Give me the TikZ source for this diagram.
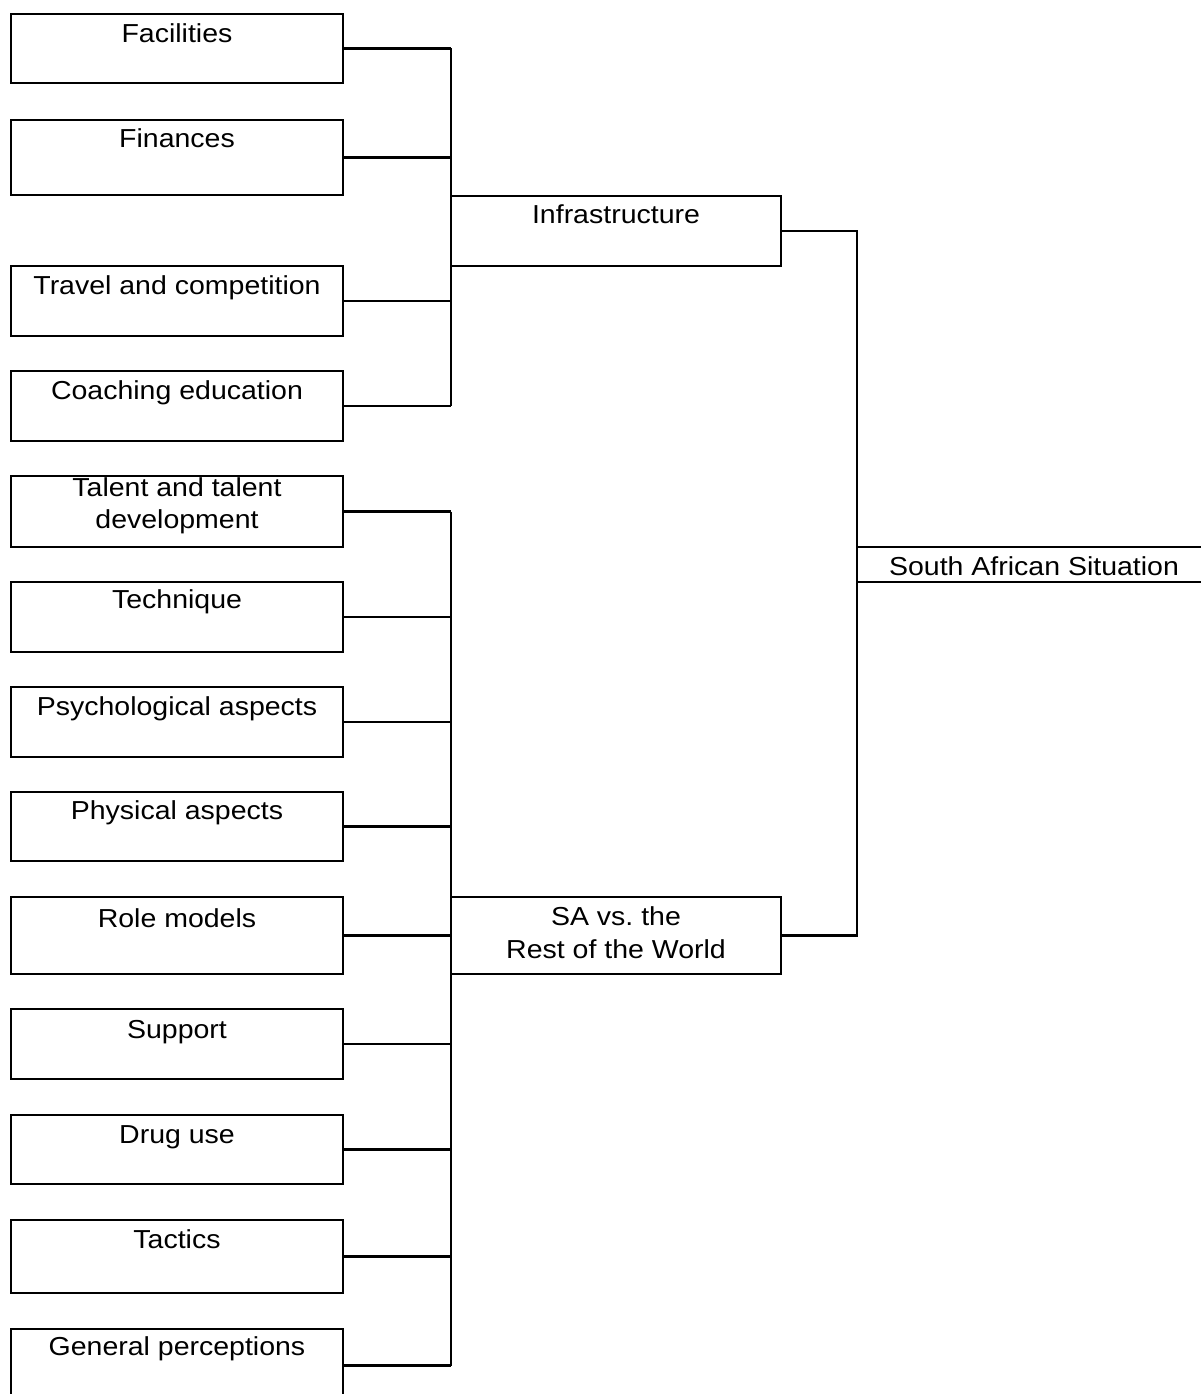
\documentclass[tikz,border=0pt]{standalone}
\usepackage{fontspec}
\usepackage{graphicx}
\setmainfont{Liberation Sans}
\usetikzlibrary{fit}
% labels are set slightly wide
\newcommand\widetext[1]{\scalebox{1.096}[1]{#1}}
\begin{document}
\begin{tikzpicture}[x=1pt,y=-1pt,line width=2.3pt,
  box/.style={draw,line width=2.3pt,inner sep=0pt,outer sep=0pt},
  txt/.style={anchor=base,inner sep=0pt,font=\fontsize{26}{30}\selectfont},
  link/.style={draw,line width=2.3pt}]
\useasboundingbox (0,0) rectangle (1201,1394);

% factor boxes, first group
\node[box,fit={(11,14) (343,83)}]    (fac)   {};
\node[box,fit={(11,120) (343,195)}]  (fin)   {};
\node[box,fit={(11,266) (343,336)}]  (trav)  {};
\node[box,fit={(11,371) (343,441)}]  (coach) {};
% factor boxes, second group
\node[box,fit={(11,476) (343,547)}]   (tal)   {};
\node[box,fit={(11,582) (343,652)}]   (tech)  {};
\node[box,fit={(11,687) (343,757)}]   (psy)   {};
\node[box,fit={(11,792) (343,861)}]   (phys)  {};
\node[box,fit={(11,897) (343,974)}]   (role)  {};
\node[box,fit={(11,1009) (343,1079)}] (supp)  {};
\node[box,fit={(11,1115) (343,1184)}] (drug)  {};
\node[box,fit={(11,1220) (343,1293)}] (tact)  {};
\node[box,fit={(11,1329) (343,1402)}] (gen)   {};
% category boxes
\node[box,fit={(451,196) (781,266)}]  (infra) {};
\node[box,fit={(451,897) (781,974)}]  (savs)  {};
% root
\node[box,fit={(857,547) (1211,582)}] (root)  {};

% labels
\node[txt] (facT)   at ([yshift=-29pt]fac.north)   {\widetext{Facilities}};
\node[txt] (finT)   at ([yshift=-27pt]fin.north)   {\widetext{Finances}};
\node[txt] (travT)  at ([yshift=-28pt]trav.north)  {\widetext{Travel and competition}};
\node[txt] (coachT) at ([yshift=-28pt]coach.north) {\widetext{Coaching education}};
\node[txt] (talT1)  at ([yshift=-20pt]tal.north)   {\widetext{Talent and talent}};
\node[txt] (talT2)  at ([yshift=-52pt]tal.north)   {\widetext{development}};
\node[txt] (techT)  at ([yshift=-26pt]tech.north)  {\widetext{Technique}};
\node[txt] (psyT)   at ([yshift=-28pt]psy.north)   {\widetext{Psychological aspects}};
\node[txt] (physT)  at ([yshift=-27pt]phys.north)  {\widetext{Physical aspects}};
\node[txt] (roleT)  at ([yshift=-30pt]role.north)  {\widetext{Role models}};
\node[txt] (suppT)  at ([yshift=-29pt]supp.north)  {\widetext{Support}};
\node[txt] (drugT)  at ([yshift=-28pt]drug.north)  {\widetext{Drug use}};
\node[txt] (tactT)  at ([yshift=-28pt]tact.north)  {\widetext{Tactics}};
\node[txt] (genT)   at ([yshift=-26pt]gen.north)   {\widetext{General perceptions}};
\node[txt] (infraT) at ([yshift=-27pt]infra.north) {\widetext{Infrastructure}};
\node[txt] (savsT1) at ([yshift=-28pt]savs.north)  {\widetext{SA vs.\ the}};
\node[txt] (savsT2) at ([yshift=-61pt]savs.north)  {\widetext{Rest of the World}};
\node[txt] (rootT)  at ([yshift=-28pt]root.north)  {\widetext{South African Situation}};

% first group feeds Infrastructure
\foreach \n in {fac,fin,trav,coach}
  \path[link] (\n.east) -- (\n.east -| infra.west);
\path[link] (fac.east -| infra.west) -- (coach.east -| infra.west);

% second group feeds SA vs. the Rest of the World
\foreach \n in {tal,tech,psy,phys,role,supp,drug,tact,gen}
  \path[link] (\n.east) -- (\n.east -| savs.west);
\path[link] (tal.east -| savs.west) -- (gen.east -| savs.west);

% both categories feed the root
\path[link] (infra.east) -- (infra.east -| root.west)
  -- (savs.east -| root.west) -- (savs.east);
\end{tikzpicture}
\end{document}
